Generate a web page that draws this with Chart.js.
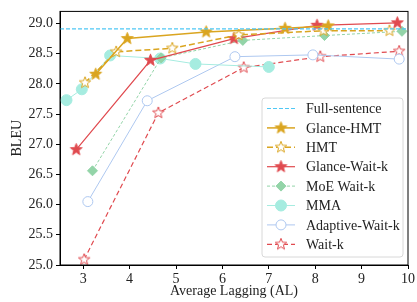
<!DOCTYPE html>
<html>
<head>
  <title>BLEU vs Average Lagging</title>
  <script src="https://cdn.jsdelivr.net/npm/chart.js"></script>
  <style>
    body { margin: 0; background: #fff; }
    .chart-container { position: relative; width: 417px; height: 302px; }
  </style>
</head>
<body>
  <div class="chart-container">
    <canvas id="myChart"></canvas>
  </div>
  <script>
    // values
    const xTicks = [3, 4, 5, 6, 7, 8, 9, 10];
    const yTicks = [25.0, 25.5, 26.0, 26.5, 27.0, 27.5, 28.0, 28.5, 29.0];
    const fullSentence = 28.91;

    const glanceHmtAL = [3.27, 3.95, 5.65, 7.35, 8.28];
    const glanceHmtBLEU = [28.16, 28.75, 28.86, 28.92, 28.96];

    const hmtAL = [3.04, 3.71, 4.92, 6.35, 8.18, 9.60];
    const hmtBLEU = [28.02, 28.53, 28.59, 28.81, 28.88, 28.88];

    const glanceWaitkAL = [2.85, 4.45, 6.25, 8.04, 9.77];
    const glanceWaitkBLEU = [26.91, 28.39, 28.75, 28.97, 29.01];

    const moeWaitkAL = [3.20, 4.68, 6.44, 8.20, 9.87];
    const moeWaitkBLEU = [26.56, 28.43, 28.72, 28.80, 28.87];

    const mmaAL = [2.64, 2.97, 3.58, 4.66, 5.42, 7.00];
    const mmaBLEU = [27.73, 27.91, 28.47, 28.42, 28.33, 28.28];

    const adaptiveAL = [3.10, 4.38, 6.27, 7.95, 9.81];
    const adaptiveBLEU = [26.05, 27.72, 28.45, 28.48, 28.41];

    const waitkAL = [3.02, 4.62, 6.46, 8.11, 9.81];
    const waitkBLEU = [25.09, 27.52, 28.27, 28.45, 28.54];

    const xMin = 2.5, xMax = 10, yMin = 25, yMax = 29.2;

    function pts(xs, ys) { return xs.map((x, i) => ({ x: x, y: ys[i] })); }

    // five-pointed star marker drawn on a small canvas
    function star(fill, stroke, r) {
      const c = document.createElement('canvas');
      const s = Math.ceil(r * 2 + 4);
      c.width = s; c.height = s;
      const g = c.getContext('2d');
      g.beginPath();
      for (let i = 0; i < 10; i++) {
        const rad = i % 2 ? r * 0.42 : r;
        const a = -Math.PI / 2 + i * Math.PI / 5;
        g.lineTo(s / 2 + rad * Math.cos(a), s / 2 + rad * Math.sin(a));
      }
      g.closePath();
      g.fillStyle = fill; g.fill();
      g.lineWidth = 1; g.strokeStyle = stroke; g.stroke();
      return c;
    }

    const gold = '#daa520', red = '#e04a4f', green = '#93d4a8',
          teal = '#a6ece0', blue = '#aec8f0', sky = '#4fc8f5';

    const datasets = [
      { label: 'Full-sentence', data: pts([xMin, xMax], [fullSentence, fullSentence]),
        borderColor: sky, borderWidth: 1.2, borderDash: [4, 2], pointRadius: 0 },
      { label: 'Glance-HMT', data: pts(glanceHmtAL, glanceHmtBLEU),
        borderColor: gold, borderWidth: 1.5, pointStyle: star(gold, gold, 6.2) },
      { label: 'HMT', data: pts(hmtAL, hmtBLEU),
        borderColor: gold, borderWidth: 1.5, borderDash: [6, 3], pointStyle: star('#fff', gold, 6) },
      { label: 'Glance-Wait-k', data: pts(glanceWaitkAL, glanceWaitkBLEU),
        borderColor: red, borderWidth: 1.2, pointStyle: star(red, red, 6.2) },
      { label: 'MoE Wait-k', data: pts(moeWaitkAL, moeWaitkBLEU),
        borderColor: green, borderWidth: 1, borderDash: [3, 2],
        pointStyle: 'rectRot', pointRadius: 5, pointBackgroundColor: green, pointBorderColor: green },
      { label: 'MMA', data: pts(mmaAL, mmaBLEU),
        borderColor: teal, borderWidth: 1,
        pointStyle: 'circle', pointRadius: 5.5, pointBackgroundColor: teal, pointBorderColor: teal },
      { label: 'Adaptive-Wait-k', data: pts(adaptiveAL, adaptiveBLEU),
        borderColor: blue, borderWidth: 1,
        pointStyle: 'circle', pointRadius: 5, pointBackgroundColor: '#fff', pointBorderColor: blue, pointBorderWidth: 1 },
      { label: 'Wait-k', data: pts(waitkAL, waitkBLEU),
        borderColor: red, borderWidth: 1.2, borderDash: [5, 3], pointStyle: star('#fff', red, 6) }
    ];
    datasets.forEach(d => { d.showLine = true; d.fill = false; });

    const frame = {
      id: 'frame',
      afterDraw(chart) {
        const { ctx, chartArea: a } = chart;
        ctx.save();
        ctx.strokeStyle = '#000'; ctx.lineWidth = 1;
        ctx.strokeRect(a.left, a.top, a.right - a.left, a.bottom - a.top);

        // legend box, line sample with marker in the middle
        const bx = 262, by = 98, bw = 141, bh = 159, row = 19.4;
        ctx.beginPath();
        ctx.roundRect(bx, by, bw, bh, 3);
        ctx.fillStyle = 'rgba(255,255,255,0.85)'; ctx.fill();
        ctx.strokeStyle = '#d8d8d8'; ctx.stroke();
        ctx.font = '14px "Liberation Serif"';
        ctx.textBaseline = 'middle';
        chart.data.datasets.forEach((d, i) => {
          const y = 108.5 + i * row;
          ctx.beginPath();
          ctx.setLineDash(d.borderDash || []);
          ctx.strokeStyle = d.borderColor; ctx.lineWidth = d.borderWidth;
          ctx.moveTo(267, y); ctx.lineTo(295, y); ctx.stroke();
          ctx.setLineDash([]);
          if (d.pointRadius !== 0) {
            ctx.fillStyle = d.pointBackgroundColor || d.borderColor;
            ctx.strokeStyle = d.pointBorderColor || d.borderColor;
            ctx.lineWidth = d.pointBorderWidth || 1;
            Chart.helpers.drawPoint(ctx, { pointStyle: d.pointStyle, radius: d.pointRadius || 5, rotation: 0, borderWidth: ctx.lineWidth }, 281, y);
          }
          ctx.fillStyle = '#222';
          ctx.fillText(d.label, 306, y + 1);
        });
        ctx.restore();
      }
    };

    const axisFont = { family: '"Liberation Serif"', size: 14 };
    new Chart(document.getElementById('myChart').getContext('2d'), {
      type: 'scatter',
      data: { datasets: datasets },
      plugins: [frame],
      options: {
        animation: false,
        responsive: true,
        maintainAspectRatio: false,
        layout: { padding: { top: 2, right: 6, left: 0, bottom: 0 } },
        plugins: { legend: { display: false }, tooltip: { enabled: false } },
        scales: {
          x: {
            type: 'linear', min: xMin, max: xMax,
            ticks: { stepSize: 1, color: '#222', font: axisFont, padding: 2 },
            afterBuildTicks: s => { s.ticks = xTicks.map(v => ({ value: v })); },
            afterFit: s => { s.height = 37; },
            grid: { drawOnChartArea: false, color: '#000', tickLength: 4 },
            border: { color: '#000' },
            title: { display: true, text: 'Average Lagging (AL)', color: '#222', font: axisFont, padding: { top: 0, bottom: 2 } }
          },
          y: {
            type: 'linear', min: yMin, max: yMax,
            ticks: { stepSize: 0.5, color: '#222', font: axisFont, callback: v => v.toFixed(1) },
            afterBuildTicks: s => { s.ticks = yTicks.map(v => ({ value: v })); },
            afterFit: s => { s.width = 60; },
            grid: { drawOnChartArea: false, color: '#000', tickLength: 4 },
            border: { color: '#000' },
            title: { display: true, text: 'BLEU', color: '#222', font: axisFont, padding: { top: 9, bottom: 4 } }
          }
        }
      }
    });
  </script>
</body>
</html>
